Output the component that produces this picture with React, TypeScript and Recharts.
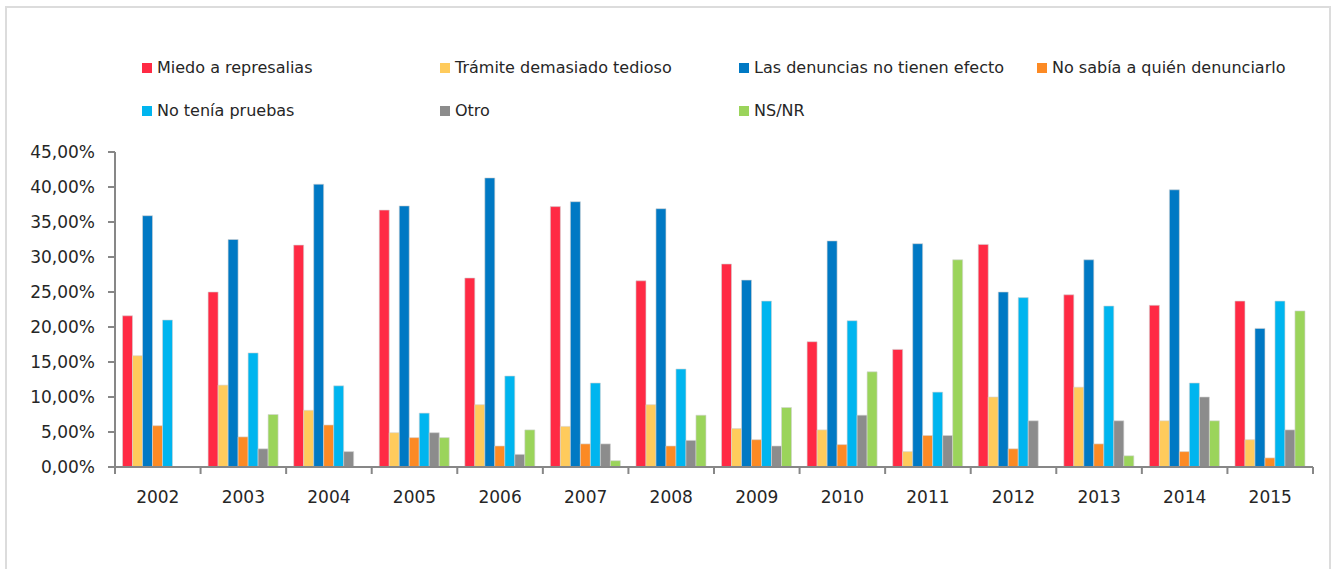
import { Bar, BarChart, XAxis, YAxis } from "recharts";

const years = ["2002", "2003", "2004", "2005", "2006", "2007", "2008", "2009", "2010", "2011", "2012", "2013", "2014", "2015"];

const miedo = [21.6, 25.0, 31.7, 36.7, 27.0, 37.2, 26.6, 29.0, 17.9, 16.8, 31.8, 24.6, 23.1, 23.7];
const tramite = [15.9, 11.7, 8.1, 4.9, 8.9, 5.8, 8.9, 5.5, 5.3, 2.2, 10.0, 11.4, 6.6, 3.9];
const sinEfecto = [35.9, 32.5, 40.4, 37.3, 41.3, 37.9, 36.9, 26.7, 32.3, 31.9, 25.0, 29.6, 39.6, 19.8];
const noSabia = [5.9, 4.3, 6.0, 4.2, 3.0, 3.3, 3.0, 3.9, 3.2, 4.5, 2.6, 3.3, 2.2, 1.3];
const sinPruebas = [21.0, 16.3, 11.6, 7.7, 13.0, 12.0, 14.0, 23.7, 20.9, 10.7, 24.2, 23.0, 12.0, 23.7];
const otro = [null, 2.6, 2.2, 4.9, 1.8, 3.3, 3.8, 3.0, 7.4, 4.5, 6.6, 6.6, 10.0, 5.3];
const nsnr = [null, 7.5, null, 4.2, 5.3, 0.9, 7.4, 8.5, 13.6, 29.6, null, 1.6, 6.6, 22.3];

const yTicks = [0, 5, 10, 15, 20, 25, 30, 35, 40, 45];

const series = [
  { key: "miedo", name: "Miedo a represalias", color: "#ff2a44", values: miedo },
  { key: "tramite", name: "Trámite demasiado tedioso", color: "#ffcb5c", values: tramite },
  { key: "sinEfecto", name: "Las denuncias no tienen efecto", color: "#0079c4", values: sinEfecto },
  { key: "noSabia", name: "No sabía a quién denunciarlo", color: "#fc8a24", values: noSabia },
  { key: "sinPruebas", name: "No tenía pruebas", color: "#00b5ef", values: sinPruebas },
  { key: "otro", name: "Otro", color: "#8c8c8c", values: otro },
  { key: "nsnr", name: "NS/NR", color: "#9bd45b", values: nsnr },
];

const data = years.map((year, i) => {
  const row: Record<string, string | number | null> = { year };
  series.forEach((s) => {
    row[s.key] = s.values[i];
  });
  return row;
});

const FONT = "'DejaVu Sans', sans-serif";
const AXIS = "#878787";
const TEXT = "#262626";

const WIDTH = 1334;
const HEIGHT = 569;
const PLOT_LEFT = 115;
const PLOT_RIGHT = 1313;
const PLOT_TOP = 152;
const PLOT_BOTTOM = 467;
const Y_AXIS_W = 100;
const X_AXIS_H = 40;
const band = (PLOT_RIGHT - PLOT_LEFT) / years.length;

const pct = (v: number) => v.toFixed(2).replace(".", ",") + "%";

function YearTick(props: any) {
  const { x, y, payload, index } = props;
  const last = index === years.length - 1;
  return (
    <g>
      <line x1={x - band / 2} x2={x - band / 2} y1={y} y2={y + 7} stroke={AXIS} strokeWidth={2} />
      {last && <line x1={x + band / 2} x2={x + band / 2} y1={y} y2={y + 7} stroke={AXIS} strokeWidth={2} />}
      <text x={x} y={y + 36} textAnchor="middle" fill={TEXT} fontSize={17} fontFamily={FONT}>
        {payload.value}
      </text>
    </g>
  );
}

const legendPos = [
  { left: 142, top: 63 },
  { left: 440, top: 63 },
  { left: 739, top: 63 },
  { left: 1037, top: 63 },
  { left: 142, top: 106 },
  { left: 440, top: 106 },
  { left: 739, top: 106 },
];

export default function App() {
  return (
    <div style={{ position: "absolute", left: 0, top: 0, width: WIDTH, height: HEIGHT, overflow: "hidden", background: "#fff" }}>
      <div
        style={{
          position: "absolute",
          left: 5,
          top: 6,
          width: 1322,
          height: 600,
          border: "2px solid #dcdcdc",
        }}
      />
      {series.map((s, i) => (
        <div
          key={s.key}
          style={{
            position: "absolute",
            left: legendPos[i].left,
            top: legendPos[i].top,
            display: "flex",
            alignItems: "center",
            fontFamily: FONT,
            fontSize: 16,
            color: TEXT,
            whiteSpace: "nowrap",
            lineHeight: "10px",
          }}
        >
          <span style={{ display: "inline-block", width: 10, height: 10, background: s.color, marginRight: 5 }} />
          <span>{s.name}</span>
        </div>
      ))}
      <div style={{ position: "absolute", left: 0, top: 0 }}>
        <BarChart
          width={WIDTH}
          height={HEIGHT}
          data={data}
          barCategoryGap="8.8%"
          barGap={0}
          margin={{
            top: PLOT_TOP,
            right: WIDTH - PLOT_RIGHT,
            left: PLOT_LEFT - Y_AXIS_W,
            bottom: HEIGHT - PLOT_BOTTOM - X_AXIS_H,
          }}
        >
          <XAxis
            dataKey="year"
            height={X_AXIS_H}
            axisLine={{ stroke: AXIS, strokeWidth: 2 }}
            tickLine={false}
            tickSize={0}
            tickMargin={0}
            tick={<YearTick />}
            interval={0}
          />
          <YAxis
            width={Y_AXIS_W}
            domain={[0, 45]}
            ticks={yTicks}
            tickFormatter={pct}
            axisLine={{ stroke: AXIS, strokeWidth: 2 }}
            tickLine={{ stroke: AXIS, strokeWidth: 2 }}
            tickSize={7}
            tickMargin={13}
            tick={{ fill: TEXT, fontSize: 17, fontFamily: FONT }}
            interval={0}
          />
          {series.map((s) => (
            <Bar
              key={s.key}
              dataKey={s.key}
              name={s.name}
              fill={s.color}
              stroke="#d4d4d4"
              strokeWidth={0.6}
              isAnimationActive={false}
            />
          ))}
        </BarChart>
      </div>
    </div>
  );
}
